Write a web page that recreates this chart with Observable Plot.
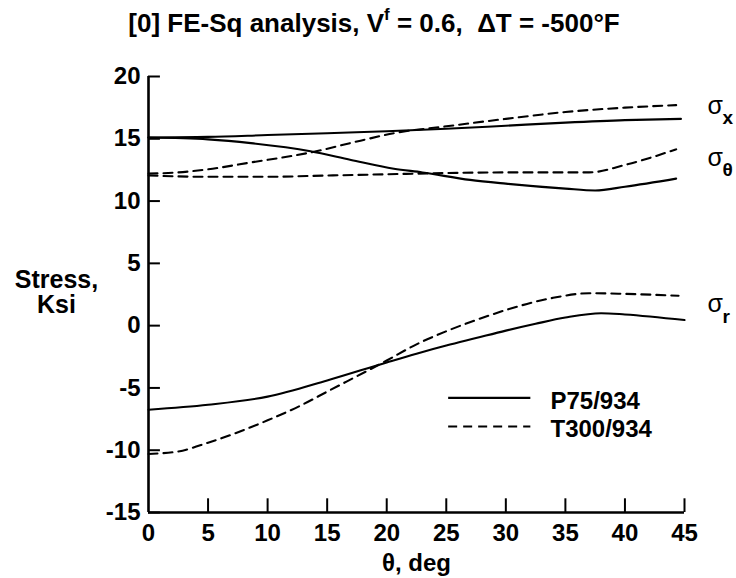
<!DOCTYPE html>
<html><head><meta charset="utf-8">
<script src="https://cdn.jsdelivr.net/npm/d3@7"></script>
<script src="https://cdn.jsdelivr.net/npm/@observablehq/plot@0.6"></script>
<style>
body{margin:0;background:#fff}
#chart{width:736px;height:578px}
</style>
</head><body><div id="chart"></div>
<script>
// ---- data ----
const xTicks = [0,5,10,15,20,25,30,35,40,45];
const yTicks = [-15,-10,-5,0,5,10,15,20];

const p75SxDeg = [0,5,10,15,20,25,30,35,40,44.7];
const p75SxVal = [15.1,15.15,15.3,15.45,15.6,15.8,16.05,16.3,16.5,16.6];
const t300SxDeg = [0,2.5,5,8.6,13.6,17.8,20.6,25,30,35,40,44.3];
const t300SxVal = [12.2,12.3,12.55,13.1,13.9,14.85,15.45,16.0,16.6,17.15,17.5,17.7];

const p75StDeg = [0,5,8.6,13.6,17,20.6,23,27,30,35,37.5,40,44.3];
const p75StVal = [15.1,14.95,14.65,14.0,13.3,12.6,12.3,11.7,11.4,11.0,10.85,11.15,11.8];
const t300StDeg = [0,5,10,15,20,25,30,37,40,44.3];
const t300StVal = [12.05,11.95,11.95,12.05,12.15,12.25,12.3,12.3,12.9,14.15];

const p75SrDeg = [0,5,10,15,20,22.5,25,27.5,30,32.5,35,38,40,45];
const p75SrVal = [-6.75,-6.35,-5.7,-4.4,-2.95,-2.25,-1.6,-1.0,-0.4,0.15,0.65,1.0,0.9,0.45];
const t300SrDeg = [0,2.5,5,10,12.8,15,20,22.5,25,27.5,30,33.8,37,40,44.5];
const t300SrVal = [-10.3,-10.1,-9.4,-7.6,-6.4,-5.3,-2.8,-1.5,-0.45,0.45,1.25,2.2,2.6,2.55,2.4];

const seriesNames = ["P75/934","T300/934"];
const componentLabels = ["x","θ","r"];
const componentLabelY = [17.6,13.45,1.7];
const titleParts = ["[0] FE-Sq analysis, V", "f", " = 0.6,  ΔT = -500°F"];

// ---- build tables ----
function toRows(deg, val, material, comp){
  return deg.map((d,i)=>({deg:d, val:val[i], material, comp}));
}
const curves = [
  toRows(p75SxDeg,p75SxVal,seriesNames[0],"x"),
  toRows(t300SxDeg,t300SxVal,seriesNames[1],"x"),
  toRows(p75StDeg,p75StVal,seriesNames[0],"t"),
  toRows(t300StDeg,t300StVal,seriesNames[1],"t"),
  toRows(p75SrDeg,p75SrVal,seriesNames[0],"r"),
  toRows(t300SrDeg,t300SrVal,seriesNames[1],"r")
];
const dashFor = m => m === seriesNames[0] ? null : "9,6";

const labelRows = componentLabels.map((c,i)=>({sub:c, y:componentLabelY[i]}));
const legendRows = seriesNames.map((n,i)=>({name:n, y:[-5.8,-8.1][i], dash:dashFor(n)}));

const FONT = "Liberation Sans, Arial, Helvetica, sans-serif";
const titleText = titleParts.join("");

const marks = [];
curves.forEach(rows=>{
  marks.push(Plot.line(rows,{x:"deg", y:"val", stroke:"#000", strokeWidth:2.1,
    strokeDasharray: dashFor(rows[0].material), curve:"monotone-x"}));
});
// axes lines
marks.push(Plot.ruleX([0],{y1:-15,y2:20,stroke:"#000",strokeWidth:2.6}));
marks.push(Plot.ruleY([-15],{x1:0,x2:45,stroke:"#000",strokeWidth:2.6}));
// inward ticks
marks.push(Plot.ruleY(yTicks,{x1:0,x2:1.0,stroke:"#000",strokeWidth:2}));
marks.push(Plot.ruleX(xTicks.slice(1),{y1:-15,y2:-13.9,stroke:"#000",strokeWidth:2}));
// tick labels
marks.push(Plot.axisY({ticks:yTicks, tickSize:0, tickPadding:8, tickFormat:d=>String(d),
  label:null, fontSize:24, fontWeight:"bold", fontFamily:FONT}));
marks.push(Plot.axisX({ticks:xTicks, tickSize:0, tickPadding:11, tickFormat:d=>String(d),
  label:null, fontSize:24, fontWeight:"bold", fontFamily:FONT}));
// axis titles
marks.push(Plot.text(["θ, deg"],{frameAnchor:"bottom", dy:41, lineAnchor:"top",
  fontSize:24, fontWeight:"bold", fontFamily:FONT}));
marks.push(Plot.text(["Stress,\nKsi"],{frameAnchor:"left", dx:-92, dy:-2, textAnchor:"middle",
  lineAnchor:"middle", lineHeight:1.02, fontSize:25, fontWeight:"bold", fontFamily:FONT}));
// title (superscript applied after render)
marks.push(Plot.text([titleText],{frameAnchor:"top", dx:-42.5, dy:-62.6, lineAnchor:"top",
  fontSize:26, fontWeight:"bold", fontFamily:FONT}));
// component labels
marks.push(Plot.text(labelRows,{x:()=>45, y:"y", text:()=>"σ", dx:23, textAnchor:"start",
  lineAnchor:"middle", fontSize:25, fontFamily:FONT}));
marks.push(Plot.text(labelRows,{x:()=>45, y:"y", text:"sub", dx:38, dy:12, textAnchor:"start",
  lineAnchor:"middle", fontSize:19, fontWeight:"bold", fontFamily:FONT}));
// legend
legendRows.forEach(r=>{
  marks.push(Plot.ruleY([r.y],{x1:25.2,x2:32.1,stroke:"#000",strokeWidth:2.1,strokeDasharray:r.dash}));
  marks.push(Plot.text([r.name],{x:()=>33.75, y:()=>r.y, dy:3, textAnchor:"start", lineAnchor:"middle",
    fontSize:24, fontWeight:"bold", fontFamily:FONT}));
});

const plot = Plot.plot({
  width:736, height:578,
  marginLeft:148, marginRight:52, marginTop:76, marginBottom:66,
  x:{domain:[0,45], axis:null},
  y:{domain:[-15,20], axis:null},
  style:{fontFamily:FONT, background:"#fff", color:"#000", overflow:"visible"},
  marks
});

// rewrite title text with a superscript "f"
d3.select(plot).selectAll("text").filter(function(){ return this.textContent === titleText; })
  .each(function(){
    const el = d3.select(this);
    el.text(null);
    el.append("tspan").text(titleParts[0]);
    el.append("tspan").attr("font-size", 17).attr("dy", -12).text(titleParts[1]);
    el.append("tspan").attr("dy", 12).text(titleParts[2]);
  });

document.getElementById("chart").appendChild(plot);
</script>
</body></html>
